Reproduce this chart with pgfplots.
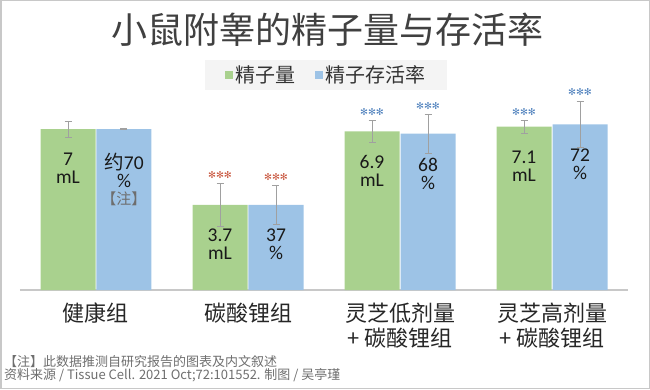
\documentclass[border=0pt]{standalone}
\usepackage{fontspec}
\setmainfont{Noto Sans CJK SC}
\newfontfamily\lat{Carlito}
\newfontfamily\cjk{Noto Sans CJK SC}
\newfontfamily\sym{DejaVu Sans}
\usepackage{pgfplots}
\pgfplotsset{compat=1.18}
\definecolor{barG}{HTML}{A9D18E}
\definecolor{barB}{HTML}{9DC3E6}
\definecolor{errC}{HTML}{A0A0A0}
\definecolor{starR}{HTML}{C8553D}
\definecolor{starB}{HTML}{4F81BD}
\definecolor{titleC}{HTML}{404040}
\definecolor{noteC}{HTML}{6E6E6E}
\definecolor{frameC}{HTML}{C8C8C8}
\definecolor{axisC}{HTML}{C8C8C8}
\definecolor{legBg}{HTML}{F4F4F4}
\begin{document}
\begin{tikzpicture}
\path[use as bounding box] (0,0) rectangle (650pt,389pt);
\draw[frameC, line width=1.5pt] (0.75pt,0.75pt) rectangle (649.25pt,388.25pt);
\node[titleC, font=\fontsize{36}{40}\selectfont, inner sep=0pt] at (327pt,359pt) {小鼠附睾的精子量与存活率};
\begin{axis}[
  at={(20pt,99pt)}, anchor=south west,
  scale only axis, width=608pt, height=230pt,
  xmin=-0.5, xmax=3.5, ymin=0, ymax=10,
  axis x line*=bottom, axis y line=none,
  x axis line style={axisC, line width=1.5pt},
  xtick={0,1,2,3}, major tick length=0pt,
  xticklabels={健康组, 碳酸锂组, {灵芝低剂量\\+ 碳酸锂组}, {灵芝高剂量\\+ 碳酸锂组}},
  xticklabel style={align=center, font=\fontsize{22}{25}\selectfont, text=black!85, yshift=-9pt},
  clip=false,
  legend style={at={(0.504,0.935)}, anchor=center, fill=legBg, draw=none,
    font=\fontsize{20}{22}\selectfont, text=black!80,
    /tikz/every even column/.append style={column sep=18pt},
    inner xsep=20pt, inner ysep=3.5pt},
  legend columns=2,
]
% green bars: sperm volume (mL)
\addplot[ybar, bar width=55pt, bar shift=0pt, fill=barG, draw=none,
  legend image code/.code={\fill[barG] (0pt,-4pt) rectangle (8pt,4pt);},
  nodes near coords={\pgfplotspointmeta\\mL}, point meta=explicit symbolic,
  every node near coord/.append style={anchor=north, yshift=-24pt, inner sep=0pt, align=center,
    font=\lat\fontsize{19.5}{18}\selectfont, text=black!90},
  error bars/y dir=both, error bars/y explicit,
  error bars/error bar style={errC, line width=0.8pt},
  error bars/error mark options={errC, rotate=90, mark size=3.5pt, line width=0.8pt}]
coordinates {
  (-0.1842,7.0) +- (0,0.35) [7]
  (0.8158,3.7) +- (0,0.93) [3.7]
  (1.8158,6.9) +- (0,0.48) [6.9]
  (2.8158,7.1) +- (0,0.28) [7.1]
};
\addlegendentry{精子量}
% blue bars: sperm survival rate (% / 10)
\addplot[ybar, bar width=55pt, bar shift=0pt, fill=barB, draw=none,
  legend image code/.code={\fill[barB] (0pt,-4pt) rectangle (8pt,4pt);},
  nodes near coords={\pgfplotspointmeta\\\%}, point meta=explicit symbolic,
  every node near coord/.append style={anchor=north, yshift=-24pt, inner sep=0pt, align=center,
    font=\lat\fontsize{19.5}{18}\selectfont, text=black!90},
  error bars/y dir=both, error bars/y explicit,
  error bars/error bar style={errC, line width=0.8pt},
  error bars/error mark options={errC, rotate=90, mark size=3.5pt, line width=0.8pt}]
coordinates {
  (0.1842,7.0) +- (0,0.02) [{\cjk 约\lat 70}]
  (1.1842,3.7) +- (0,0.83) [37]
  (2.1842,6.8) +- (0,0.85) [68]
  (3.1842,7.2) +- (0,1.00) [72]
};
\addlegendentry{精子存活率}
% note mark inside first blue bar
\addplot[ybar, bar width=55pt, bar shift=0pt, draw=none, fill=none, forget plot,
  nodes near coords, point meta=explicit symbolic,
  every node near coord/.append style={anchor=north, yshift=-63pt, inner sep=0pt,
    font=\fontsize{15}{15}\selectfont, text=noteC}]
coordinates {(0.1842,7.0) [【注】]};
% significance stars (red)
\addplot[ybar, bar width=55pt, bar shift=0pt, draw=none, fill=none, forget plot,
  nodes near coords, point meta=explicit symbolic,
  every node near coord/.append style={anchor=base, inner sep=0pt, yshift=5pt,
    font=\sym\fontsize{9.5}{10}\selectfont, text=starR}]
coordinates {(0.8158,4.63) [✻✻✻] (1.1842,4.53) [✻✻✻]};
% significance stars (blue)
\addplot[ybar, bar width=55pt, bar shift=0pt, draw=none, fill=none, forget plot,
  nodes near coords, point meta=explicit symbolic,
  every node near coord/.append style={anchor=base, inner sep=0pt, yshift=5pt,
    font=\sym\fontsize{9.5}{10}\selectfont, text=starB}]
coordinates {(1.8158,7.38) [✻✻✻] (2.1842,7.65) [✻✻✻] (2.8158,7.38) [✻✻✻] (3.1842,8.26) [✻✻✻]};
\end{axis}
\node[anchor=west, text=noteC, font=\fontsize{13}{13}\selectfont, inner sep=0pt] at (4pt,27pt) {【注】此数据推测自研究报告的图表及内文叙述};
\node[anchor=west, text=noteC, font=\fontsize{13}{13}\selectfont, inner sep=0pt] at (4pt,14pt) {资料来源 / Tissue Cell. 2021 Oct;72:101552. 制图 / 吴亭瑾};
\end{tikzpicture}
\end{document}
